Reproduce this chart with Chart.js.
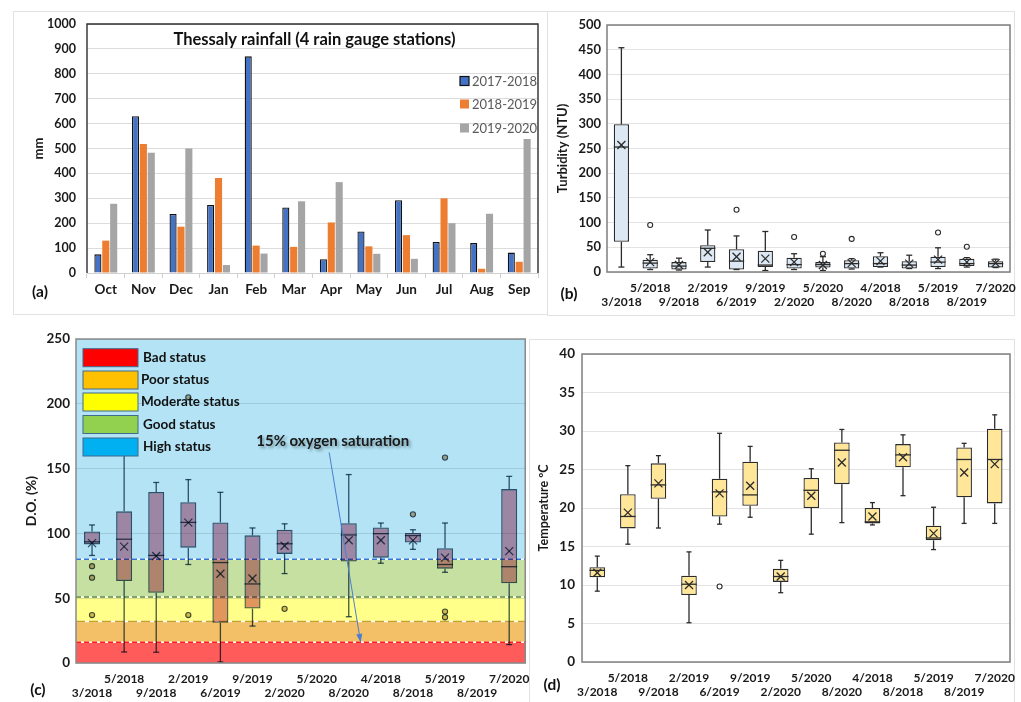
<!DOCTYPE html>
<html><head><meta charset="utf-8">
<script src="https://cdn.jsdelivr.net/npm/chart.js@4.4.0/dist/chart.umd.min.js"></script>
<style>
html,body{margin:0;padding:0;background:#fff;width:1021px;height:702px;overflow:hidden;font-family:Lato,sans-serif;}
.frame{position:absolute;border:1px solid #e2e2e2;box-sizing:border-box;}
canvas{position:absolute;}
.plabel{position:absolute;font:bold 15.5px Lato,sans-serif;color:#111;transform:translate(-50%,-50%);white-space:nowrap;}
</style></head><body>
<div class="frame" style="left:13px;top:11px;width:535px;height:304px"></div>
<div class="frame" style="left:547px;top:11px;width:468px;height:305px"></div>
<div class="frame" style="left:529px;top:339px;width:486px;height:400px"></div>
<canvas id="ca" width="545" height="315" style="left:0;top:0"></canvas>
<canvas id="cb" width="476" height="315" style="left:545px;top:0"></canvas>
<canvas id="cc" width="530" height="382" style="left:0;top:320px"></canvas>
<canvas id="cd" width="491" height="372" style="left:530px;top:330px"></canvas>
<div class="plabel" style="left:40px;top:291px">(a)</div>
<div class="plabel" style="left:569px;top:293px">(b)</div>
<div class="plabel" style="left:38px;top:689px">(c)</div>
<div class="plabel" style="left:552px;top:684px">(d)</div>
<script>
// ---------------- Panel (a): rainfall ----------------
const months = ['Oct','Nov','Dec','Jan','Feb','Mar','Apr','May','Jun','Jul','Aug','Sep'];
const seriesNames = ['2017-2018','2018-2019','2019-2020'];
const rain1718 = [75,630,237,273,870,263,55,167,292,125,120,82];
const rain1819 = [130,518,186,382,110,105,203,107,152,300,17,45];
const rain1920 = [278,483,500,32,78,288,365,77,57,200,238,538];
const rainTitle = 'Thessaly rainfall (4 rain gauge stations)';

// ---------------- Sampling dates (b, c, d) ----------------
const sampleDates = ['3/2018','5/2018','9/2018','2/2019','6/2019','9/2019','2/2020','5/2020','8/2020','4/2018','8/2018','5/2019','8/2019','7/2020'];

// ---------------- Panel (b): turbidity (NTU) ----------------
const turbMin  = [10, 5, 4, 10, 5, 3, 5, 3, 6, 10, 7, 7, 10, 9];
const turbQ1   = [61, 7, 5, 20, 5, 10, 7, 9, 7, 10, 7, 10, 12, 9];
const turbMed  = [253, 18, 12, 48, 22, 14, 15, 15, 17, 17, 14, 20, 17, 17];
const turbQ3   = [299, 25, 20, 54, 46, 43, 29, 20, 24, 32, 22, 31, 27, 22];
const turbMax  = [454, 35, 28, 85, 73, 82, 37, 31, 27, 39, 34, 49, 29, 26];
const turbMean = [257, 20, 14, 40, 31, 27, 20, 14, 18, 22, 17, 25, 20, 18];
const turbOut  = [[], [95], [], [], [126], [], [71], [37], [67], [], [], [80], [51], []];

// ---------------- Panel (c): dissolved oxygen (%) ----------------
const doMin  = [83, 8.5, 8.3, 76, 0.8, 28.5, 69, null, 35.7, 77, 87.7, 70, null, 14.2];
const doQ1   = [91.5, 63.2, 54.2, 89, 31, 42, 84.2, null, 78.3, 81.3, 93, 72.8, null, 61.5];
const doMed  = [93.5, 95.5, 83, 108.5, 77.5, 61, 92, null, 98.8, 99.8, 98.3, 76, null, 74.3];
const doQ3   = [101.5, 117, 132, 124, 108.5, 98.5, 102.8, null, 107.8, 104.6, 100.3, 88.5, null, 134.2];
const doMax  = [106.5, 172, 139.3, 141.5, 131.7, 104.2, 107.4, null, 145.4, 108, 102.8, 108, null, 144];
const doMean = [92.5, 89.8, 82.5, 108.3, 68.9, 65.2, 90.5, null, 94.7, 94.7, 94.6, 81.3, null, 86.3];
const doOut  = [[74.7, 65.8, 37], [], [], [37, 205], [], [], [41.8], [], [], [], [114.7], [158.5, 39.7, 35.3], [], []];
const statusNames  = ['Bad status','Poor status','Moderate status','Good status','High status'];
const statusLimits = [0, 16, 32, 51, 80, 250];
const oxygenNote = '15% oxygen saturation';

// ---------------- Panel (d): temperature (ºC) ----------------
const tMin  = [9.2, 15.3, 17.4, 5.1, 17.9, 18.8, 9.0, 16.6, 18.1, 17.8, 21.6, 14.6, 18.0, 18.0];
const tQ1   = [11.0, 17.35, 21.2, 8.7, 18.9, 20.3, 10.4, 20.0, 23.1, 18.0, 25.3, 15.8, 21.4, 20.6];
const tMed  = [11.9, 18.9, 23.0, 10.1, 22.1, 21.7, 11.1, 22.3, 27.5, 18.2, 26.9, 16.1, 26.3, 26.3];
const tQ3   = [12.3, 21.8, 25.8, 11.2, 23.8, 26.0, 12.1, 23.9, 28.5, 20.0, 28.3, 17.7, 27.85, 30.3];
const tMax  = [13.75, 25.5, 26.8, 14.3, 29.7, 28.0, 13.2, 25.1, 30.2, 20.7, 29.5, 20.1, 28.4, 32.1];
const tMean = [11.6, 19.4, 23.2, 10.0, 21.9, 22.9, 11.1, 21.6, 25.9, 18.9, 26.6, 16.7, 24.6, 25.7];
const tOut  = [[], [], [], [], [9.8], [], [], [], [], [], [], [], [], []];

const FONT = 'Lato, sans-serif';
Chart.defaults.font.family = FONT;
const twoRow = sampleDates.map((c,i)=> i%2===0 ? ['', c] : [c, '']);
const plain = v => String(v);

function frame(color, width){
  return {id:'frame'+Math.random(), afterDraw(chart){
    const {ctx, chartArea:a} = chart; ctx.save();
    ctx.strokeStyle=color; ctx.lineWidth=width; ctx.strokeRect(a.left, a.top, a.right-a.left, a.bottom-a.top);
    ctx.restore();
  }};
}

// ---------- (a) ----------
const titleLegendA = {id:'tla', afterDraw(chart){
  const {ctx, chartArea:a} = chart; ctx.save();
  ctx.strokeStyle='#2e2e2e'; ctx.lineWidth=1.4; ctx.beginPath();
  ctx.moveTo(a.left, a.bottom); ctx.lineTo(a.left, a.top); ctx.lineTo(a.right, a.top); ctx.lineTo(a.right, a.bottom); ctx.stroke();
  ctx.fillStyle='#111'; ctx.font='bold 16.5px '+FONT; ctx.textAlign='center'; ctx.textBaseline='middle';
  ctx.fillText(rainTitle, (a.left+a.right)/2+2, a.top+16);
  const rows=[57,80,104];
  chart.data.datasets.forEach((ds,i)=>{
    const y=a.top+rows[i];
    ctx.fillStyle=ds.backgroundColor; ctx.fillRect(a.right-78, y-4.5, 9, 9);
    if(i===0){ctx.strokeStyle='#111'; ctx.lineWidth=1.2; ctx.strokeRect(a.right-78, y-4.5, 9, 9);}
    ctx.fillStyle='#595959'; ctx.font='13px '+FONT; ctx.textAlign='left';
    ctx.fillText(ds.label, a.right-66, y+0.5);
  });
  ctx.restore();
}};
new Chart(document.getElementById('ca'), {
  type:'bar',
  data:{labels:months, datasets:[
    {label:seriesNames[0], data:rain1718, backgroundColor:'#4472c4', borderColor:'#111', borderWidth:1.3},
    {label:seriesNames[1], data:rain1819, backgroundColor:'#ed7d31', borderWidth:0},
    {label:seriesNames[2], data:rain1920, backgroundColor:'#a5a5a5', borderWidth:0}]},
  options:{responsive:false, animation:false, events:[],
    layout:{padding:{left:0,right:7,top:24,bottom:0}},
    datasets:{bar:{categoryPercentage:0.63, barPercentage:0.9}},
    plugins:{legend:{display:false}, tooltip:{enabled:false}},
    scales:{
      x:{grid:{offset:true, drawOnChartArea:false, drawTicks:true, tickLength:5, color:'#d0d0d0'}, border:{color:'#d0d0d0'},
         ticks:{font:{size:13.5, weight:'bold'}, color:'#1a1a1a', padding:4, maxRotation:0, autoSkip:false},
         afterFit(s){s.height=42;}},
      y:{min:0, max:1000, ticks:{stepSize:100, callback:plain, font:{size:12.5, weight:'bold'}, color:'#1a1a1a', padding:11},
         grid:{color:'#dcdcdc', drawTicks:false}, border:{display:false},
         title:{display:true, text:'mm', font:{size:13, weight:'bold'}, color:'#1a1a1a', padding:{top:31,bottom:0}},
         afterFit(s){s.width=87;}}
    }},
  plugins:[titleLegendA]
});

// ---------- generic box plot ----------
function boxExtras(st, o){
  return {id:'bx'+Math.random(),
    beforeDatasetsDraw(chart){ chart.ctx.save(); if(o.composite) chart.ctx.globalCompositeOperation=o.composite; },
    afterDatasetsDraw(chart){
      const {ctx, scales:{x,y}} = chart; ctx.restore(); ctx.save();
      if(o.composite) ctx.globalCompositeOperation=o.composite;
      const meta = chart.getDatasetMeta(0);
      ctx.strokeStyle=o.line; ctx.lineWidth=o.lw;
      const L=(x1,y1,x2,y2)=>{ctx.beginPath();ctx.moveTo(x1,y1);ctx.lineTo(x2,y2);ctx.stroke();};
      st.min.forEach((mn,i)=>{
        const cx=x.getPixelForValue(i);
        (st.out[i]||[]).forEach(v=>{ ctx.beginPath(); ctx.arc(cx, y.getPixelForValue(v), o.r, 0, Math.PI*2);
          if(o.outFill){ctx.fillStyle=o.outFill; ctx.fill();} ctx.lineWidth=1.1; ctx.stroke(); ctx.lineWidth=o.lw; });
        if(mn==null) return;
        const half=meta.data[i].width/2;
        const yMin=y.getPixelForValue(mn), yQ1=y.getPixelForValue(st.q1[i]), yMd=y.getPixelForValue(st.med[i]),
              yQ3=y.getPixelForValue(st.q3[i]), yMx=y.getPixelForValue(st.max[i]), yMn=y.getPixelForValue(st.mean[i]);
        L(cx,yQ3,cx,yMx); L(cx-o.cap,yMx,cx+o.cap,yMx);
        L(cx,yQ1,cx,yMin); L(cx-o.cap,yMin,cx+o.cap,yMin);
        L(cx-half,yMd,cx+half,yMd);
        const k=o.xs; L(cx-k,yMn-k,cx+k,yMn+k); L(cx-k,yMn+k,cx+k,yMn-k);
      });
      ctx.restore();
    }};
}
function boxChart(id, st, o, extraPlugins){
  return new Chart(document.getElementById(id), {
    type:'bar',
    data:{labels:twoRow, datasets:[{data:st.q1.map((v,i)=> v==null?null:[v, st.q3[i]]),
      backgroundColor:o.fill, borderColor:o.line, borderWidth:o.bw, borderSkipped:false,
      categoryPercentage:o.catPct, barPercentage:1}]},
    options:{responsive:false, animation:false, events:[],
      layout:{padding:o.pad},
      plugins:{legend:{display:false}, tooltip:{enabled:false}},
      scales:{
        x:{grid:{display:false}, border:{display:false},
           ticks:{font:{size:12, weight:'bold'}, color:'#1a1a1a', padding:o.xpad, maxRotation:0, autoSkip:false},
           afterFit(s){s.height=o.xh;}},
        y:{min:o.min, max:o.max, ticks:{stepSize:o.step, callback:plain, font:{size:o.yfs, weight:'bold'}, color:'#1a1a1a', padding:o.ypad},
           grid:{color:o.grid, drawTicks:false}, border:{display:false},
           title:{display:true, text:o.title, font:{size:o.tfs, weight:'bold'}, color:'#1a1a1a', padding:{top:o.tpad,bottom:0}},
           afterFit(s){s.width=o.yw;}}
      }},
    plugins:[...(extraPlugins||[]), boxExtras(st,o), frame(o.frame, 1.5)]
  });
}

// ---------- (b) ----------
boxChart('cb', {min:turbMin,q1:turbQ1,med:turbMed,q3:turbQ3,max:turbMax,mean:turbMean,out:turbOut},
  {fill:'#dce9f5', line:'#2b2b2b', bw:1.3, lw:1.3, catPct:0.53, pad:{left:0,right:11,top:25,bottom:0},
   xpad:0.5, xh:43, min:0, max:500, step:50, yfs:13, ypad:6, grid:'#e3e3e3', title:'Turbidity (NTU)', tfs:13, tpad:10.5, yw:62,
   cap:3, xs:4, r:2.5, outFill:null, frame:'#7f7f7f'});

// ---------- (c) ----------
const bandColors = ['#ff5b5b','#f3c068','#ffff8a','#c6e0a2','#b3e3f5'];
const legendColors = ['#ff0000','#ffc000','#ffff00','#92d050','#00b0f0'];
const limitLines = [{c:'#ff1a1a',d:[5,3]},{c:'#c9a02a',d:[9,4]},{c:'#5a8a3a',d:[5,3]},{c:'#2e75d6',d:[5,3]}];
const bandsPlugin = {id:'bands',
  beforeDraw(chart){
    const {ctx, chartArea:a, scales:{y}} = chart; ctx.save();
    for(let i=0;i<5;i++){
      const y1=y.getPixelForValue(statusLimits[i+1]), y0=y.getPixelForValue(statusLimits[i]);
      ctx.fillStyle=bandColors[i]; ctx.fillRect(a.left, y1, a.right-a.left, y0-y1);
    }
    ctx.restore();
  },
  beforeDatasetsDraw(chart){
    const {ctx, chartArea:a, scales:{y}} = chart; ctx.save();
    limitLines.forEach((ln,i)=>{
      const yy=y.getPixelForValue(statusLimits[i+1]);
      ctx.strokeStyle='rgba(255,255,255,0.9)'; ctx.lineWidth=1.5; ctx.setLineDash([]);
      ctx.beginPath(); ctx.moveTo(a.left,yy); ctx.lineTo(a.right,yy); ctx.stroke();
      ctx.strokeStyle=ln.c; ctx.setLineDash(ln.d);
      ctx.beginPath(); ctx.moveTo(a.left,yy); ctx.lineTo(a.right,yy); ctx.stroke();
    });
    ctx.restore();
  },
  afterDraw(chart){
    const {ctx, chartArea:a, scales:{x,y}} = chart; ctx.save();
    const rows=[18.7,41,63,85.5,108];
    statusNames.forEach((n,i)=>{
      const yc=a.top+rows[i];
      ctx.fillStyle=legendColors[i]; ctx.fillRect(a.left+7, yc-9, 55, 18);
      ctx.strokeStyle='#3f6b8c'; ctx.lineWidth=1; ctx.strokeRect(a.left+7, yc-9, 55, 18);
      ctx.fillStyle='#111'; ctx.font='bold 13.5px '+FONT; ctx.textAlign='left'; ctx.textBaseline='middle';
      ctx.fillText(n, a.left+(i===1||i===2?65:67), yc);
    });
    const x0=x.getPixelForValue(7.39), y0=y.getPixelForValue(162.5);
    const x1=x.getPixelForValue(8.37), y1=y.getPixelForValue(16);
    ctx.strokeStyle='#4a7fd0'; ctx.lineWidth=1; ctx.beginPath(); ctx.moveTo(x0,y0); ctx.lineTo(x1,y1); ctx.stroke();
    const ang=Math.atan2(y1-y0,x1-x0), h=9;
    ctx.fillStyle='#4a7fd0'; ctx.beginPath(); ctx.moveTo(x1,y1);
    ctx.lineTo(x1-h*Math.cos(ang-0.35), y1-h*Math.sin(ang-0.35));
    ctx.lineTo(x1-h*Math.cos(ang+0.35), y1-h*Math.sin(ang+0.35)); ctx.closePath(); ctx.fill();
    ctx.font='bold 15px '+FONT; ctx.textAlign='center'; ctx.textBaseline='middle';
    ctx.shadowColor='rgba(0,0,0,0.35)'; ctx.shadowBlur=3; ctx.shadowOffsetX=2; ctx.shadowOffsetY=2;
    ctx.fillStyle='#1a1a1a'; ctx.fillText(oxygenNote, x.getPixelForValue(7.5), y.getPixelForValue(171.5));
    ctx.restore();
  }};
boxChart('cc', {min:doMin,q1:doQ1,med:doMed,q3:doQ3,max:doMax,mean:doMean,out:doOut},
  {fill:'rgb(224,150,170)', line:'rgb(62,88,112)', bw:1.3, lw:1.3, catPct:0.5, pad:{left:0,right:3,top:19,bottom:0},
   xpad:0.5, xh:39, min:0, max:250, step:50, yfs:13.5, ypad:6, grid:'rgba(60,90,110,0.18)', title:'D.O. (%)', tfs:14, tpad:23.5, yw:76,
   cap:3, xs:4, r:2.6, outFill:'rgb(215,180,140)', composite:'multiply', frame:'#8a8a8a'}, [bandsPlugin]);

// ---------- (d) ----------
boxChart('cd', {min:tMin,q1:tQ1,med:tMed,q3:tQ3,max:tMax,mean:tMean,out:tOut},
  {fill:'#ffe699', line:'#2b2b2b', bw:1.3, lw:1.3, catPct:0.51, pad:{left:0,right:11,top:24,bottom:0},
   xpad:0.5, xh:40, min:0, max:40, step:5, yfs:13.5, ypad:7, grid:'#e3e3e3', title:'Temperature ºC', tfs:12.5, tpad:6.5, yw:52,
   cap:2.5, xs:4, r:2.5, outFill:'#fff', frame:'#7f7f7f'});
</script>
</body></html>
